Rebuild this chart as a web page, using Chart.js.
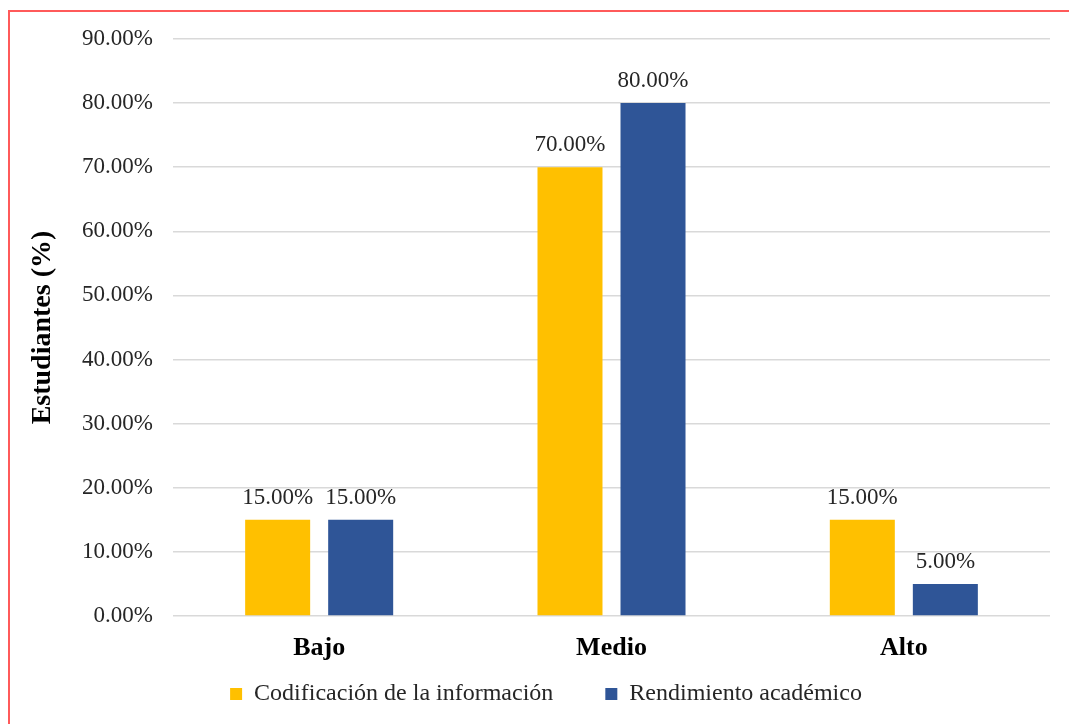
<!DOCTYPE html>
<html>
<head>
<meta charset="utf-8">
<script src="https://cdn.jsdelivr.net/npm/chart.js@4"></script>
<style>
  html, body { margin: 0; padding: 0; background: #fff; }
  #frame {
    position: absolute; left: 8px; top: 10px; width: 1100px; height: 760px;
    border-left: 2px solid #ff5a5a; border-top: 2px solid #ff5a5a;
  }
  #chart { position: absolute; left: 0; top: 0; }
</style>
</head>
<body>
<div id="frame"></div>
<canvas id="chart" width="1069" height="724"></canvas>
<script>
const CATEGORIES = ["Bajo", "Medio", "Alto"];
const SERIES_NAMES = ["Codificación de la información", "Rendimiento académico"];
const CODIFICACION = [15, 70, 15];
const RENDIMIENTO = [15, 80, 5];
const Y_TICKS = [0, 10, 20, 30, 40, 50, 60, 70, 80, 90];

const COLORS = ["#ffc000", "#2f5597"];
const FONT = "'Liberation Serif', 'Times New Roman', serif";
const TEXT_COLOR = "#262626";

const pct = v => v.toFixed(2) + "%";

// draws the value above each bar
const barLabels = {
  id: 'barLabels',
  afterDatasetsDraw(chart) {
    const ctx = chart.ctx;
    ctx.save();
    ctx.font = "23px " + FONT;
    ctx.fillStyle = TEXT_COLOR;
    ctx.textAlign = 'center';
    ctx.textBaseline = 'alphabetic';
    chart.data.datasets.forEach((ds, i) => {
      chart.getDatasetMeta(i).data.forEach((bar, j) => {
        ctx.fillText(pct(ds.data[j]), bar.x, bar.y - 16);
      });
    });
    ctx.restore();
  }
};

new Chart(document.getElementById('chart').getContext('2d'), {
  type: 'bar',
  data: {
    labels: CATEGORIES,
    datasets: [
      { label: SERIES_NAMES[0], data: CODIFICACION, backgroundColor: COLORS[0] },
      { label: SERIES_NAMES[1], data: RENDIMIENTO, backgroundColor: COLORS[1] }
    ]
  },
  options: {
    responsive: false,
    devicePixelRatio: 1,
    animation: false,
    categoryPercentage: 0.568,
    barPercentage: 0.783,
    // left padding is large so the legend centres where the original does;
    // the y axis box is narrowed by the same amount
    layout: { padding: { left: 42, right: 19, top: 39, bottom: 8 } },
    plugins: {
      legend: {
        position: 'bottom',
        labels: {
          boxWidth: 12,
          boxHeight: 12,
          padding: 10,
          color: TEXT_COLOR,
          font: { family: FONT, size: 24 },
          // wider gap between the two entries, like the original
          generateLabels: chart => {
            const items = Chart.defaults.plugins.legend.labels.generateLabels(chart);
            items.forEach((it, i) => {
              if (i < items.length - 1) it.text += "\u00a0\u00a0\u00a0\u00a0\u00a0\u00a0\u00a0";
            });
            return items;
          }
        }
      },
      tooltip: { enabled: false }
    },
    scales: {
      x: {
        afterFit: scale => { scale.height = 56; },
        grid: { display: false },
        border: { display: false },
        ticks: { color: "#000", padding: 9, font: { family: FONT, size: 26, weight: 'bold' } }
      },
      y: {
        min: 0,
        max: 90,
        afterFit: scale => { scale.width = 131; },
        afterBuildTicks: scale => { scale.ticks = Y_TICKS.map(v => ({ value: v })); },
        grid: { color: "#d9d9d9", lineWidth: 1.5, drawTicks: false },
        border: { display: false },
        ticks: {
          color: TEXT_COLOR,
          padding: 20,
          font: { family: FONT, size: 23 },
          callback: v => pct(v)
        },
        title: {
          display: true,
          text: "Estudiantes (%)",
          color: "#000",
          padding: { top: -16, bottom: 0 },
          font: { family: FONT, size: 28, weight: 'bold' }
        }
      }
    }
  },
  plugins: [barLabels]
});
</script>
</body>
</html>
